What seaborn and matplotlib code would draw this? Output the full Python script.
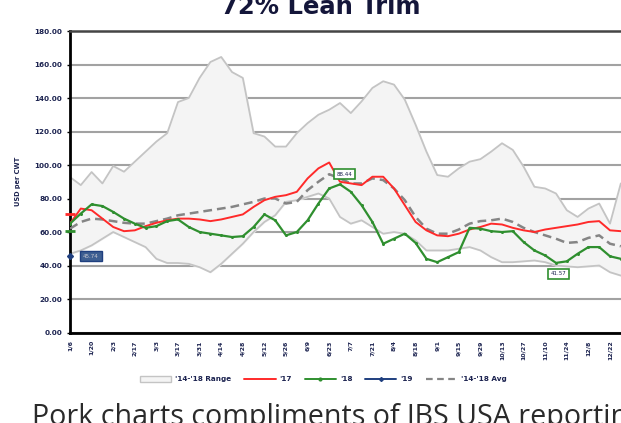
'''
72% Lean Trim weekly price chart - '17, '18, '19 against the '14-'18 range and average
'''
import numpy as np
import matplotlib.pyplot as plt
import seaborn as sns
from matplotlib.patches import Patch
from matplotlib.lines import Line2D

# week index, one point per week starting 1/6
weeks = np.arange(52)

tick_labels = ['1/6', '1/20', '2/3', '2/17', '3/3', '3/17', '3/31', '4/14', '4/28',
               '5/12', '5/26', '6/9', '6/23', '7/7', '7/21', '8/4', '8/18', '9/1',
               '9/15', '9/29', '10/13', '10/27', '11/10', '11/24', '12/8', '12/22']

range_high = [92.8, 88, 95.8, 89, 99.4, 96, 102, 108, 114, 119, 137.6, 140, 152,
              161.5, 164.5, 155.5, 152, 119, 117, 111, 111, 119, 125, 130, 133, 137,
              131, 138, 146, 150, 148, 139, 124, 108, 94, 93, 98, 102, 103.5, 108,
              113, 109, 99, 87, 86, 83, 73, 69, 74, 77, 65, 89]

range_low = [47, 49, 52, 56, 60, 57, 54, 51, 44, 41.5, 41.5, 41, 39, 36, 41, 47, 53,
             60, 66, 70, 78, 79, 81, 83, 80, 69, 65, 67, 63, 59, 60, 59, 55, 49, 49,
             49, 50, 51, 49, 45, 42, 42, 42.5, 43, 42, 40, 39.5, 39, 39.5, 40, 36, 34]

y2017 = [65, 74, 73, 68, 63, 60.5, 61, 63.5, 65.5, 67, 68, 68, 67.5, 66.5, 67.5, 69,
         70.5, 75, 79, 81, 82, 84, 92, 98, 101.5, 90, 89, 88, 93, 93, 86, 76, 66, 61,
         58, 57.5, 59, 61.5, 63, 65, 64.5, 62.5, 61, 60, 61.5, 62.5, 63.5, 64.5, 66,
         66.5, 61, 60.5]

y2018 = [65, 71, 76.5, 75.5, 72, 68, 65, 62.5, 63.5, 66.5, 67.5, 63, 60, 59, 58, 57,
         57.5, 63, 70.5, 67, 58, 60, 67, 77, 86, 88.44, 84, 76, 66, 53, 56, 59, 53.5,
         44, 42, 45, 48, 62.5, 62, 60.5, 60, 60.5, 54, 49, 46, 41.57, 42.5, 47, 51, 51,
         45.5, 44]

y2019 = [45.74]

avg_14_18 = [62, 66, 68, 67.5, 66.5, 65.5, 65, 65, 66.5, 68, 70, 71, 72, 73, 74, 75,
             76.5, 78, 80, 80, 77, 78, 85, 90, 94.5, 92, 89, 89, 92, 91, 86, 79, 69, 62,
             59, 59, 61.5, 65, 66.5, 67, 68, 66, 62.5, 60, 58, 56, 53.5, 54, 56.5, 58,
             53, 51.5]

# values where each line crosses the value axis
start_2017 = 71
start_2018 = 60.5

RED = '#ff2a2a'
GREEN = '#2f8f2f'
BLUE = '#1f3f7f'
GREY = '#858585'
NAVY = '#1c2350'

sns.set_style('white')
plt.rcParams['font.family'] = ['DejaVu Sans']

fig = plt.figure(figsize=(6.21, 4.23), dpi=100)
ax = fig.add_axes([70 / 621, 0.2139, 561.6 / 621, 0.7128])

'''
range band and lines
'''
ax.fill_between(weeks, range_low, range_high, color='#f4f4f4', zorder=1)
sns.lineplot(x=weeks, y=range_high, ax=ax, color='#c4c4c4', lw=1.3, zorder=2)
sns.lineplot(x=weeks, y=range_low, ax=ax, color='#c4c4c4', lw=1.3, zorder=2)

sns.lineplot(x=weeks, y=avg_14_18, ax=ax, color=GREY, lw=1.8, zorder=3,
             dashes=False, linestyle=(0, (3.5, 2)))
sns.lineplot(x=weeks, y=y2017, ax=ax, color=RED, lw=1.4, zorder=4)
sns.lineplot(x=weeks, y=y2018, ax=ax, color=GREEN, lw=1.6, zorder=5,
             marker='o', markersize=2.2, markeredgewidth=0)
ax.plot(weeks[:len(y2019)], y2019, color=BLUE, marker='D', markersize=3, zorder=6,
        clip_on=False)

ax.plot(0, start_2017, marker='_', markersize=7, mew=2, color=RED, clip_on=False, zorder=6)
ax.plot(0, start_2018, marker='_', markersize=7, mew=2, color=GREEN, clip_on=False, zorder=6)

'''
data labels
'''
ax.annotate('45.74', (0, y2019[0]), xytext=(1.95, 45.6), fontsize=4, color='#c8c8d0',
            ha='center', va='center', zorder=7,
            bbox=dict(boxstyle='square,pad=0.5', fc='#3e5f92', ec=BLUE, lw=1))
ax.annotate('88.44', (25, 88.44), xytext=(25.4, 94.6), fontsize=4, color=NAVY,
            ha='center', va='center', zorder=7,
            bbox=dict(boxstyle='square,pad=0.5', fc='white', ec=GREEN, lw=1.2))
ax.annotate('41.57', (45, 41.57), xytext=(45.2, 35), fontsize=4, color=NAVY,
            ha='center', va='center', zorder=7,
            bbox=dict(boxstyle='square,pad=0.5', fc='white', ec=GREEN, lw=1.2))

'''
axes, grid and ticks
'''
ax.set_xlim(0, 52)
ax.set_ylim(0, 180)
ax.set_yticks(np.arange(0, 181, 20))
ax.set_yticklabels([f'{v:.2f}' for v in np.arange(0, 181, 20)], fontsize=5.2,
                   fontweight='bold', color=NAVY)
ax.set_xticks(np.arange(0, 52, 2))
ax.set_xticklabels(tick_labels, rotation=90, fontsize=4.5, fontweight='bold', color=NAVY)
ax.set_xticks(weeks, minor=True)
ax.tick_params(axis='x', which='major', length=2.5, width=1, pad=3, color='black')
ax.tick_params(axis='x', which='minor', length=1.5, width=0.8, color='black')
ax.tick_params(axis='y', length=2.5, width=1, pad=3, color='black', left=True)
ax.set_xlabel('')
ax.set_ylabel('USD per CWT', fontsize=4.8, fontweight='bold', color=NAVY, labelpad=10)

ax.grid(axis='y', color='#a2a2a2', lw=1.5)
ax.grid(axis='x', visible=False)
ax.set_axisbelow(True)
for side in ['left', 'bottom']:
    ax.spines[side].set_color('black')
    ax.spines[side].set_linewidth(2)
ax.spines['top'].set_color('#454545')
ax.spines['top'].set_linewidth(1.8)
ax.spines['right'].set_visible(False)

'''
legend, title and caption
'''
handles = [
    Patch(facecolor='#f4f4f4', edgecolor='#c4c4c4', lw=1),
    Line2D([], [], color=RED, lw=1.4),
    Line2D([], [], color=GREEN, lw=1.4, marker='o', markersize=2),
    Line2D([], [], color=BLUE, lw=1.4, marker='D', markersize=2),
    Line2D([], [], color=GREY, lw=1.6, linestyle=(0, (3, 2))),
]
labels = ["'14-'18 Range", "'17", "'18", "'19", "'14-'18 Avg"]
fig.legend(handles, labels, loc='center', bbox_to_anchor=(0.521, 1 - 379 / 423), ncol=5,
           frameon=False, prop=dict(size=5.2, weight='bold'), labelcolor=NAVY,
           handlelength=4.3, handleheight=1.0, columnspacing=1.8, handletextpad=0.55)

fig.text(0.517, 1 - 14 / 423, '72% Lean Trim', fontsize=17.5, fontweight='bold',
         color='#14163a', ha='center', va='baseline')
fig.text(32 / 621, -2 / 423, 'Pork charts compliments of JBS USA reporting',
         fontsize=20.6, family='Open Sans', color='#2a2a2a', ha='left', va='baseline')

fig.savefig('out.png', dpi=100)
